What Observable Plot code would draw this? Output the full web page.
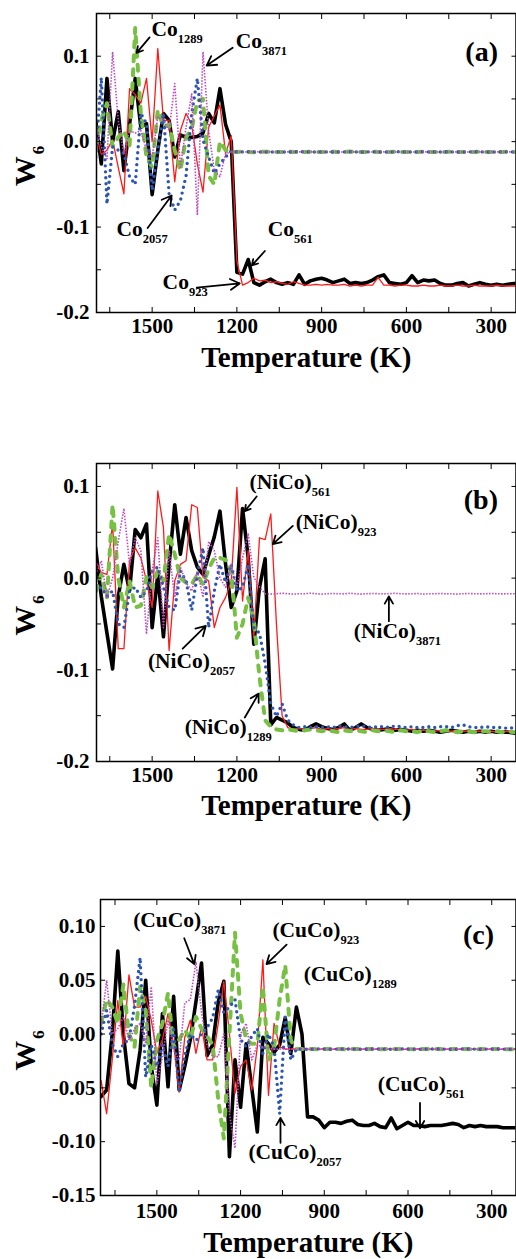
<!DOCTYPE html>
<html><head><meta charset="utf-8">
<script src="https://cdn.jsdelivr.net/npm/d3@7"></script>
<script src="https://cdn.jsdelivr.net/npm/@observablehq/plot@0.6"></script>
<style>
html,body{margin:0;padding:0;background:#fff;}
#chart{width:516px;}
#chart svg{display:block;}
</style></head><body><div id="chart"></div>
<script>
// ---------- data ----------
const temps = [
 1700,1680,1660,1640,1620,1600,1580,1560,1540,1520,
 1500,1480,1460,1440,1420,1400,1380,1360,1340,1320,
 1300,1280,1260,1240,1220,1200,1180,1160,1140,1120,
 1100,1080,1060,1040,1020,1000,980,960,940,920,
 900,880,860,840,820,800,780,760,740,720,
 700,680,660,640,620,600,580,560,540,520,
 500,480,460,440,420,400,380,360,340,320,
 300,280,260,240,220,200];

// panel (a): Co
const coW561 = [
 0.025,-0.026,0.074,0.0,0.035,-0.034,0.02,0.074,0.017,0.021,
 -0.062,-0.01,0.033,0.025,-0.018,0.008,0.005,0.005,0.006,0.01,
 0.033,0.022,0.062,0.02,0.0,-0.153,-0.155,-0.138,-0.165,-0.168,
 -0.164,-0.161,-0.165,-0.167,-0.165,-0.167,-0.156,-0.167,-0.163,-0.161,
 -0.160,-0.162,-0.165,-0.163,-0.161,-0.166,-0.165,-0.166,-0.165,-0.162,
 -0.158,-0.156,-0.165,-0.166,-0.167,-0.165,-0.157,-0.165,-0.162,-0.163,
 -0.162,-0.166,-0.168,-0.168,-0.166,-0.165,-0.169,-0.167,-0.165,-0.167,
 -0.168,-0.167,-0.168,-0.167,-0.166,-0.166];
const coW923 = [
 0.01,-0.015,-0.01,0.002,-0.03,-0.061,0.062,0.055,0.045,0.074,
 0.0,0.109,0.025,0.025,-0.047,0.013,0.033,0.02,-0.026,-0.059,
 0.017,0.03,0.043,-0.014,0.007,-0.14,-0.168,-0.165,-0.16,-0.163,
 -0.162,-0.165,-0.164,-0.166,-0.167,-0.164,-0.166,-0.168,-0.168,-0.167,
 -0.168,-0.167,-0.168,-0.168,-0.167,-0.169,-0.168,-0.169,-0.168,-0.168,
 -0.159,-0.168,-0.168,-0.169,-0.168,-0.168,-0.169,-0.169,-0.168,-0.169,
 -0.169,-0.168,-0.169,-0.169,-0.168,-0.169,-0.169,-0.168,-0.169,-0.169,
 -0.169,-0.168,-0.169,-0.169,-0.169,-0.169];
const coW1289 = [
 -0.006,0.025,0.045,-0.006,0.005,0.013,-0.005,0.133,0.033,-0.018,
 -0.03,0.037,0.017,0.02,-0.01,-0.034,0.005,0.015,0.048,0.05,
 -0.04,-0.05,0.0,-0.01,-0.012,-0.012,-0.0115,-0.012,-0.0125,-0.012,
 -0.0118,-0.012,-0.0122,-0.012,-0.0115,-0.012,-0.0122,-0.012,-0.0118,-0.012,
 -0.012,-0.0122,-0.0118,-0.012,-0.012,-0.0115,-0.012,-0.0122,-0.012,-0.0118,
 -0.012,-0.012,-0.0122,-0.0118,-0.012,-0.012,-0.0122,-0.012,-0.0118,-0.012,
 -0.0122,-0.012,-0.012,-0.0118,-0.012,-0.0122,-0.012,-0.012,-0.0118,-0.012,
 -0.012,-0.0122,-0.012,-0.0118,-0.012,-0.012];
const coW2057 = [
 -0.018,0.075,-0.073,-0.006,-0.01,-0.014,-0.041,-0.05,0.033,0.021,
 -0.057,-0.01,0.033,-0.061,-0.08,-0.069,-0.04,0.033,0.074,0.002,
 -0.018,-0.037,-0.026,-0.018,-0.011,-0.012,-0.012,-0.0118,-0.012,-0.0122,
 -0.012,-0.0121,-0.0119,-0.012,-0.0122,-0.012,-0.0118,-0.012,-0.012,-0.0121,
 -0.0119,-0.012,-0.0122,-0.012,-0.012,-0.0118,-0.012,-0.0121,-0.012,-0.0119,
 -0.012,-0.0122,-0.012,-0.012,-0.0118,-0.012,-0.0121,-0.012,-0.0119,-0.012,
 -0.012,-0.0121,-0.0119,-0.012,-0.012,-0.0122,-0.012,-0.0118,-0.012,-0.012,
 -0.0121,-0.012,-0.0119,-0.012,-0.012,-0.012];
const coW3871 = [
 0.021,-0.006,-0.02,0.105,0.025,-0.014,0.013,0.01,0.013,-0.01,
 -0.018,0.029,0.025,0.013,0.068,-0.03,0.017,0.056,-0.086,0.105,
 0.013,-0.034,-0.041,-0.014,-0.012,-0.012,-0.0122,-0.012,-0.0118,-0.012,
 -0.012,-0.0119,-0.0121,-0.012,-0.012,-0.0122,-0.012,-0.0119,-0.012,-0.012,
 -0.0121,-0.012,-0.0119,-0.012,-0.0122,-0.012,-0.012,-0.0119,-0.012,-0.0121,
 -0.012,-0.012,-0.0119,-0.0121,-0.012,-0.012,-0.0122,-0.012,-0.0119,-0.012,
 -0.012,-0.0121,-0.012,-0.0119,-0.012,-0.012,-0.0121,-0.012,-0.012,-0.0119,
 -0.012,-0.012,-0.0121,-0.012,-0.0119,-0.012];

// panel (b): NiCo
const niW561 = [
 0.033,-0.02,-0.06,-0.099,-0.02,0.015,-0.014,0.053,0.044,0.059,
 -0.054,0.004,-0.064,0.015,0.08,0.026,0.066,0.03,0.012,0.004,
 0.025,0.045,0.073,0.015,-0.032,-0.014,0.076,0.022,-0.072,-0.01,
 0.021,-0.16,-0.152,-0.155,-0.158,-0.163,-0.165,-0.166,-0.162,-0.159,
 -0.162,-0.164,-0.165,-0.163,-0.159,-0.166,-0.163,-0.159,-0.163,-0.165,
 -0.166,-0.165,-0.164,-0.166,-0.165,-0.166,-0.167,-0.166,-0.167,-0.166,
 -0.167,-0.168,-0.167,-0.166,-0.167,-0.168,-0.167,-0.168,-0.167,-0.168,
 -0.167,-0.168,-0.168,-0.168,-0.169,-0.169];
const niW923 = [
 0.019,0.006,0.004,0.06,-0.077,-0.077,0.019,0.033,0.022,-0.003,
 -0.032,0.095,0.055,-0.079,-0.003,0.015,0.019,0.08,0.077,0.001,
 -0.003,-0.054,-0.032,-0.021,-0.003,0.099,-0.025,0.03,-0.065,0.044,
 0.042,0.07,-0.05,-0.15,-0.163,-0.165,-0.164,-0.165,-0.164,-0.163,
 -0.165,-0.164,-0.165,-0.164,-0.163,-0.165,-0.164,-0.165,-0.165,-0.164,
 -0.165,-0.165,-0.164,-0.165,-0.165,-0.166,-0.165,-0.166,-0.166,-0.166,
 -0.167,-0.166,-0.167,-0.167,-0.166,-0.167,-0.167,-0.167,-0.167,-0.168,
 -0.167,-0.168,-0.168,-0.167,-0.168,-0.168];
const niW1289 = [
 -0.015,0.004,-0.021,0.08,0.0,-0.032,-0.003,-0.032,-0.03,0.001,
 -0.01,0.008,-0.003,0.048,0.026,0.0,-0.005,-0.007,0.004,-0.007,
 0.01,0.022,0.022,0.02,0.008,-0.065,-0.05,-0.021,-0.046,-0.108,
 -0.155,-0.162,-0.165,-0.166,-0.165,-0.166,-0.167,-0.166,-0.165,-0.166,
 -0.167,-0.166,-0.167,-0.168,-0.166,-0.167,-0.166,-0.167,-0.168,-0.166,
 -0.167,-0.166,-0.167,-0.168,-0.166,-0.167,-0.167,-0.168,-0.166,-0.167,
 -0.168,-0.167,-0.166,-0.167,-0.168,-0.167,-0.167,-0.168,-0.167,-0.167,
 -0.168,-0.167,-0.168,-0.167,-0.168,-0.168];
const niW2057 = [
 -0.014,-0.01,-0.02,-0.014,-0.05,-0.054,-0.014,-0.01,-0.021,-0.014,
 0.008,0.012,-0.01,-0.032,-0.035,0.008,-0.003,-0.035,0.004,0.033,
 -0.054,-0.014,0.015,-0.005,0.015,-0.014,-0.01,0.015,-0.054,-0.06,
 -0.093,-0.137,-0.151,-0.137,-0.155,-0.16,-0.163,-0.162,-0.163,-0.162,
 -0.163,-0.162,-0.163,-0.161,-0.162,-0.163,-0.162,-0.161,-0.162,-0.163,
 -0.162,-0.162,-0.163,-0.161,-0.162,-0.163,-0.162,-0.163,-0.163,-0.162,
 -0.163,-0.162,-0.162,-0.163,-0.161,-0.16,-0.162,-0.163,-0.163,-0.162,
 -0.163,-0.163,-0.163,-0.164,-0.163,-0.164];
const niW3871 = [
 0.004,0.019,-0.021,0.0,0.04,0.076,0.015,0.044,0.03,-0.061,
 0.008,0.044,-0.054,0.03,-0.021,0.012,-0.005,-0.014,0.008,-0.021,
 0.04,0.03,0.0,-0.01,0.015,-0.01,0.022,0.048,0.001,-0.01,
 -0.017,-0.0175,-0.017,-0.0165,-0.017,-0.0175,-0.017,-0.017,-0.0165,-0.017,
 -0.0175,-0.017,-0.0168,-0.017,-0.0172,-0.0165,-0.017,-0.0175,-0.017,-0.0168,
 -0.017,-0.0172,-0.017,-0.0165,-0.017,-0.0172,-0.017,-0.0168,-0.0175,-0.017,
 -0.017,-0.0168,-0.0172,-0.017,-0.0175,-0.017,-0.0168,-0.017,-0.0172,-0.017,
 -0.0168,-0.017,-0.0172,-0.017,-0.017,-0.017];

// panel (c): CuCo
const cuW561 = [
 -0.058,-0.052,0.0,0.077,0.0,-0.046,-0.05,-0.015,0.05,-0.03,
 -0.066,0.019,-0.049,0.035,-0.052,-0.03,-0.005,0.03,0.066,-0.02,
 -0.01,0.03,0.049,-0.114,-0.024,-0.068,-0.009,-0.05,-0.091,-0.003,
 -0.009,-0.017,-0.01,0.015,-0.018,0.025,0.0,-0.077,-0.077,-0.08,
 -0.087,-0.082,-0.082,-0.083,-0.081,-0.08,-0.084,-0.085,-0.085,-0.083,
 -0.086,-0.087,-0.078,-0.088,-0.085,-0.082,-0.085,-0.085,-0.086,-0.085,
 -0.085,-0.085,-0.084,-0.083,-0.084,-0.087,-0.085,-0.086,-0.085,-0.086,
 -0.086,-0.086,-0.087,-0.087,-0.087,-0.087];
const cuW923 = [
 -0.043,-0.074,-0.024,0.031,-0.012,0.055,0.025,0.025,0.035,0.013,
 -0.018,-0.005,0.019,-0.009,-0.054,-0.003,0.013,-0.018,0.007,-0.024,
 -0.024,0.01,0.049,0.0,-0.055,-0.03,-0.024,-0.052,-0.012,0.069,
 -0.057,0.01,-0.012,-0.014,-0.014,-0.0138,-0.014,-0.0142,-0.014,-0.014,
 -0.0138,-0.014,-0.014,-0.0142,-0.014,-0.014,-0.0138,-0.014,-0.0142,-0.014,
 -0.014,-0.0138,-0.014,-0.014,-0.0142,-0.014,-0.014,-0.0138,-0.014,-0.014,
 -0.0142,-0.014,-0.014,-0.0138,-0.014,-0.014,-0.0142,-0.014,-0.0138,-0.014,
 -0.014,-0.0142,-0.014,-0.014,-0.0138,-0.014];
const cuW1289 = [
 0.01,0.032,0.025,0.01,0.046,0.0,-0.012,0.044,0.022,-0.05,
 -0.006,0.01,0.038,-0.012,-0.005,0.004,-0.005,0.016,0.005,-0.002,
 -0.01,-0.061,-0.097,0.0,0.094,0.019,-0.005,-0.009,-0.009,0.044,
 -0.024,-0.012,0.032,0.064,-0.006,-0.014,-0.014,-0.0138,-0.014,-0.0142,
 -0.014,-0.014,-0.0138,-0.014,-0.0142,-0.014,-0.014,-0.0138,-0.014,-0.014,
 -0.0142,-0.014,-0.014,-0.0138,-0.014,-0.014,-0.0142,-0.014,-0.014,-0.0138,
 -0.014,-0.014,-0.0142,-0.014,-0.0138,-0.014,-0.014,-0.0142,-0.014,-0.014,
 -0.0138,-0.014,-0.014,-0.0142,-0.014,-0.014];
const cuW2057 = [
 0.0,0.022,-0.009,-0.021,-0.009,-0.005,0.026,0.071,-0.04,-0.01,
 -0.03,-0.01,-0.03,0.004,-0.054,-0.02,0.0,-0.006,0.0,0.006,
 0.015,0.041,0.02,0.025,0.032,-0.005,-0.012,-0.002,0.005,-0.018,
 0.0,-0.012,-0.074,0.016,-0.024,-0.014,-0.014,-0.0142,-0.014,-0.0138,
 -0.014,-0.0142,-0.014,-0.014,-0.0138,-0.014,-0.014,-0.0142,-0.014,-0.0138,
 -0.014,-0.014,-0.0142,-0.014,-0.0138,-0.014,-0.014,-0.0142,-0.014,-0.014,
 -0.0138,-0.014,-0.014,-0.0142,-0.014,-0.0138,-0.014,-0.014,-0.0142,-0.014,
 -0.014,-0.0138,-0.014,-0.0142,-0.014,-0.014];
const cuW3871 = [
 0.007,0.05,0.0,0.005,0.016,-0.006,0.005,0.01,-0.009,0.044,
 -0.046,-0.021,0.013,-0.015,-0.024,0.029,0.032,0.067,0.02,-0.01,
 -0.021,-0.021,0.0,-0.074,-0.106,0.0,0.01,-0.024,-0.01,-0.012,
 -0.013,-0.014,-0.014,-0.0138,-0.014,-0.014,-0.0142,-0.014,-0.014,-0.0138,
 -0.014,-0.0142,-0.014,-0.014,-0.0138,-0.014,-0.0142,-0.014,-0.014,-0.0138,
 -0.014,-0.014,-0.0142,-0.014,-0.0138,-0.014,-0.014,-0.0142,-0.014,-0.014,
 -0.0138,-0.014,-0.0142,-0.014,-0.014,-0.0138,-0.014,-0.014,-0.0142,-0.014,
 -0.014,-0.0138,-0.014,-0.014,-0.0142,-0.014];

// ticks
const xTicks = [1650,1500,1350,1200,1050,900,750,600,450,300];
const xTickLabels = [1500,1200,900,600,300];
const yTicksAB = [-0.2,-0.15,-0.1,-0.05,0,0.05,0.1];
const yTickLabelsAB = [-0.2,-0.1,0,0.1];
const yTicksC = [-0.15,-0.1,-0.05,0,0.05,0.1];
const yTickLabelsC = [-0.15,-0.1,-0.05,0,0.05,0.1];

// annotations (text in data coordinates; "_" marks a subscript)
const coLabels = ["Co_1289","Co_3871","Co_2057","Co_561","Co_923"];
const coLabelT = [1502,1204,1626,1091,1463];
const coLabelW = [0.124,0.110,-0.110,-0.110,-0.172];
const coArrowT1 = [1509,1215,1516,1101,1342];
const coArrowW1 = [0.122,0.110,-0.101,-0.128,-0.171];
const coArrowT2 = [1555,1307,1431,1147,1190];
const coArrowW2 = [0.104,0.089,-0.063,-0.145,-0.166];

const niLabels = ["(NiCo)_561","(NiCo)_923","(NiCo)_3871","(NiCo)_2057","(NiCo)_1289"];
const niLabelT = [1155,992,786,1515,1385];
const niLabelW = [0.097,0.054,-0.065,-0.098,-0.170];
const niArrowT1 = [1130,1002,662,1392,1172];
const niArrowW1 = [0.089,0.057,-0.047,-0.077,-0.152];
const niArrowT2 = [1172,1073,662,1310,1123];
const niArrowW2 = [0.073,0.037,-0.020,-0.052,-0.126];

const cuLabels = ["(CuCo)_3871","(CuCo)_923","(CuCo)_1289","(CuCo)_2057","(CuCo)_561"];
const cuLabelT = [1585,1086,974,1172,708];
const cuLabelW = [0.099,0.090,0.049,-0.116,-0.053];
const cuArrowT1 = [1402,1035,1057,557];
const cuArrowW1 = [0.089,0.083,-0.101,-0.064];
const cuArrowT2 = [1366,1107,1057,557];
const cuArrowW2 = [0.065,0.065,-0.078,-0.0875];

const panelTags = ["(a)","(b)","(c)"];
const seriesNames = ["561","923","1289","2057","3871"];

// ---------- styling ----------
const FONT = "'Liberation Serif','Times New Roman',Times,serif";
const lineStyle = {
  "561":  {stroke:"#000000", strokeWidth:3.6},
  "923":  {stroke:"#ff1a1a", strokeWidth:1.3},
  "1289": {stroke:"#78c043", strokeWidth:4, strokeDasharray:"6,8"},
  "2057": {stroke:"#2d55b2", strokeWidth:3.4, strokeDasharray:"0,6"},
  "3871": {stroke:"#c048c4", strokeWidth:1.6, strokeDasharray:"1.5,1.5", strokeLinecap:"butt"}
};

function subscripts(svg) {
  svg.querySelectorAll("text").forEach(el => {
    const t = el.textContent;
    const i = t.indexOf("_");
    if (i < 0) return;
    const main = t.slice(0, i), sub = t.slice(i + 1);
    while (el.firstChild) el.removeChild(el.firstChild);
    const ns = "http://www.w3.org/2000/svg";
    const a = document.createElementNS(ns, "tspan"); a.textContent = main;
    const b = document.createElementNS(ns, "tspan"); b.textContent = sub;
    const isW = main === "W";
    b.setAttribute("dy", isW ? "9" : "7");
    b.setAttribute("font-size", isW ? "17" : "12.5");
    if (isW) b.setAttribute("dx", "2");
    el.appendChild(a); el.appendChild(b);
  });
}

function buildPanel(cfg) {
  const marks = [];
  cfg.series.forEach((vals, k) => {
    const name = seriesNames[k];
    const rows = temps.map((t, i) => ({T: t, W: vals[i]}));
    marks.push(Plot.line(rows, {x: "T", y: "W", clip: true, strokeLinejoin: "round", strokeLinecap: "round", ...lineStyle[name]}));
  });
  marks.push(Plot.frame({stroke: "black", strokeWidth: 1.5}));
  const major = new Set(cfg.yLabels.map(v => v.toFixed(3)));
  const xMajor = new Set(xTickLabels);
  marks.push(Plot.axisX(xTicks, {anchor: "bottom", tickSize: -5, tickPadding: cfg.xPad, label: null, fontSize: 21, fontWeight: "bold",
    tickFormat: d => xMajor.has(d) ? String(d) : ""}));
  marks.push(Plot.axisX(xTicks, {anchor: "top", tickSize: -5, label: null, tickFormat: () => ""}));
  marks.push(Plot.axisY(cfg.yTicks, {anchor: "left", tickSize: -5, tickPadding: cfg.yPad, label: null, fontSize: 21, fontWeight: "bold",
    tickFormat: d => major.has(d.toFixed(3)) ? d.toFixed(cfg.dec) : ""}));
  marks.push(Plot.axisY(cfg.yTicks, {anchor: "right", tickSize: -5, label: null, tickFormat: () => ""}));
  // axis titles
  marks.push(Plot.text(["Temperature (K)"], {text: d => d, frameAnchor: "bottom", lineAnchor: "bottom", dy: cfg.xTitleDy, fontSize: 29, fontWeight: "bold"}));
  marks.push(Plot.text(["W_6"], {text: d => d, frameAnchor: "left", rotate: -90, textAnchor: "middle", lineAnchor: "bottom", dx: cfg.wDx, dy: 3, fontSize: 30, fontWeight: "bold"}));
  marks.push(Plot.text([cfg.tag], {text: d => d, frameAnchor: "top-right", textAnchor: "end", lineAnchor: "bottom", dx: cfg.tagDx, dy: cfg.tagDy, fontSize: 28, fontWeight: "bold"}));
  // annotations
  const notes = cfg.labels.map((s, i) => ({s, T: cfg.labelT[i], W: cfg.labelW[i]}));
  marks.push(Plot.text(notes, {x: "T", y: "W", text: "s", textAnchor: "start", lineAnchor: "bottom", fontSize: 21.5, fontWeight: "bold"}));
  const arrows = cfg.aT1.map((t, i) => ({x1: t, y1: cfg.aW1[i], x2: cfg.aT2[i], y2: cfg.aW2[i]}));
  marks.push(Plot.arrow(arrows, {x1: "x1", y1: "y1", x2: "x2", y2: "y2", stroke: "black", strokeWidth: 1.8, headLength: 9}));

  const svg = Plot.plot({
    width: 516, height: cfg.height,
    marginTop: cfg.mt, marginBottom: cfg.mb, marginLeft: cfg.ml, marginRight: 0.5,
    x: {domain: cfg.xDomain, label: null},
    y: {domain: cfg.yDomain, label: null},
    style: {fontFamily: FONT, fontWeight: "bold", background: "white", color: "black", overflow: "visible"},
    marks
  });
  subscripts(svg);
  return svg;
}

const chart = document.getElementById("chart");
chart.appendChild(buildPanel({
  series: [coW561, coW923, coW1289, coW2057, coW3871],
  height: 430, mt: 13, mb: 118, ml: 96,
  xDomain: [1697, 212], yDomain: [-0.2, 0.15],
  yTicks: yTicksAB, yLabels: yTickLabelsAB, dec: 1, xPad: 11, yPad: 12,
  xTitleDy: 54, wDx: -62, tag: panelTags[0], tagDx: -18, tagDy: 47,
  labels: coLabels, labelT: coLabelT, labelW: coLabelW,
  aT1: coArrowT1, aW1: coArrowW1, aT2: coArrowT2, aW2: coArrowW2
}));
chart.appendChild(buildPanel({
  series: [niW561, niW923, niW1289, niW2057, niW3871],
  height: 430, mt: 33, mb: 99, ml: 96,
  xDomain: [1697, 212], yDomain: [-0.2, 0.125],
  yTicks: yTicksAB, yLabels: yTickLabelsAB, dec: 1, xPad: 11, yPad: 12,
  xTitleDy: 53, wDx: -62, tag: panelTags[1], tagDx: -18, tagDy: 45,
  labels: niLabels, labelT: niLabelT, labelW: niLabelW,
  aT1: niArrowT1, aW1: niArrowW1, aT2: niArrowT2, aW2: niArrowW2
}));
chart.appendChild(buildPanel({
  series: [cuW561, cuW923, cuW1289, cuW2057, cuW3871],
  height: 399, mt: 39, mb: 64, ml: 100,
  xDomain: [1702, 213], yDomain: [-0.15, 0.125],
  yTicks: yTicksC, yLabels: yTickLabelsC, dec: 2, xPad: 13, yPad: 10,
  xTitleDy: 56, wDx: -66, tag: panelTags[2], tagDx: -22, tagDy: 44,
  labels: cuLabels, labelT: cuLabelT, labelW: cuLabelW,
  aT1: cuArrowT1, aW1: cuArrowW1, aT2: cuArrowT2, aW2: cuArrowW2
}));
</script></body></html>
